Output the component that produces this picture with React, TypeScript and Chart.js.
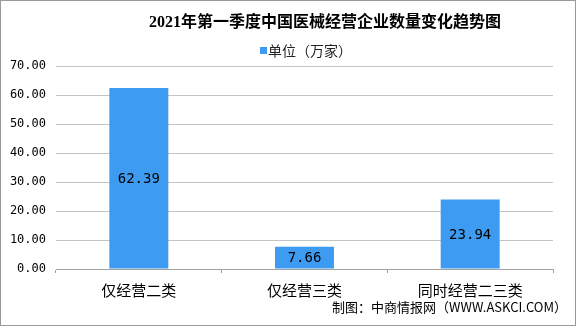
import React, { useEffect, useRef } from "react";
import { Chart, registerables } from "chart.js";

Chart.register(...registerables);

const categories = ["仅经营二类", "仅经营三类", "同时经营二三类"];
const values = [62.39, 7.66, 23.94];
const seriesName = "单位（万家）";
const titleText = "2021年第一季度中国医械经营企业数量变化趋势图";
const footerText = "制图：中商情报网（WWW.ASKCI.COM）";

const BAR_COLOR = "#3d9cf2";
const CJK = "'Noto Sans CJK SC', sans-serif";
const MONO = "'DejaVu Sans Mono', 'Liberation Mono', monospace";

const decorPlugin = {
  id: "decor",
  beforeDraw(chart: any) {
    const { ctx, width, height } = chart;
    ctx.save();
    ctx.fillStyle = "#ffffff";
    ctx.fillRect(0, 0, width, height);
    ctx.restore();
  },
  afterDatasetsDraw(chart: any) {
    const { ctx } = chart;
    const meta = chart.getDatasetMeta(0);
    ctx.save();
    ctx.font = "14px " + MONO;
    ctx.fillStyle = "#000000";
    ctx.textAlign = "center";
    ctx.textBaseline = "middle";
    meta.data.forEach((bar: any, i: number) => {
      const y = (bar.y + bar.base) / 2;
      ctx.fillText(values[i].toFixed(2), bar.x, y + 1);
    });
    ctx.restore();
  },
  afterDraw(chart: any) {
    const { ctx, width, height } = chart;
    ctx.save();
    // title
    ctx.fillStyle = "#000000";
    ctx.font = "bold 16px 'Liberation Serif', 'Noto Sans CJK SC', serif";
    ctx.textAlign = "center";
    ctx.textBaseline = "middle";
    ctx.fillText(titleText, 325, 23);
    // legend
    ctx.fillStyle = BAR_COLOR;
    ctx.fillRect(260, 47, 7, 7);
    ctx.fillStyle = "#222222";
    ctx.font = "14px " + CJK;
    ctx.textAlign = "left";
    ctx.fillText(seriesName, 268, 51);
    // footer
    ctx.font = "13px " + CJK;
    ctx.textAlign = "right";
    ctx.fillStyle = "#000000";
    ctx.fillText(footerText, 567, 307);
    // border
    ctx.strokeStyle = "#9a9a9a";
    ctx.lineWidth = 1;
    ctx.strokeRect(0.5, 0.5, width - 1, height - 1);
    ctx.restore();
  },
};

export default function App() {
  const ref = useRef<HTMLCanvasElement | null>(null);
  useEffect(() => {
    document.body.style.margin = "0";
    const canvas = ref.current;
    if (!canvas) return;
    const chart = new Chart(canvas, {
      type: "bar",
      data: {
        labels: categories,
        datasets: [
          {
            label: seriesName,
            data: values,
            backgroundColor: BAR_COLOR,
            borderWidth: 0,
            categoryPercentage: 1,
            barPercentage: 0.356,
          },
        ],
      },
      options: {
        animation: false,
        responsive: false,
        maintainAspectRatio: false,
        layout: { padding: { top: 66, right: 23, bottom: 0, left: 0 } },
        plugins: {
          legend: { display: false },
          title: { display: false },
          tooltip: { enabled: false },
        },
        scales: {
          x: {
            grid: {
              display: true,
              drawOnChartArea: false,
              drawTicks: true,
              tickLength: 4,
              color: "#a0a0a0",
            },
            border: { display: true, color: "#a0a0a0" },
            ticks: {
              padding: 8,
              color: "#000000",
              font: { size: 15, family: CJK },
              maxRotation: 0,
            },
            afterFit(scale: any) {
              scale.height = 57;
            },
          },
          y: {
            min: 0,
            max: 70,
            grid: { color: "#c4c4c4", drawTicks: false },
            border: { display: false },
            ticks: {
              stepSize: 10,
              padding: 10,
              color: "#000000",
              font: { size: 12, family: MONO },
              callback: (v: any) => Number(v).toFixed(2),
            },
            afterFit(scale: any) {
              scale.width = 56;
            },
          },
        },
      },
      plugins: [decorPlugin],
    });
    return () => chart.destroy();
  }, []);
  return <canvas ref={ref} width={576} height={326} style={{ display: "block" }} />;
}
